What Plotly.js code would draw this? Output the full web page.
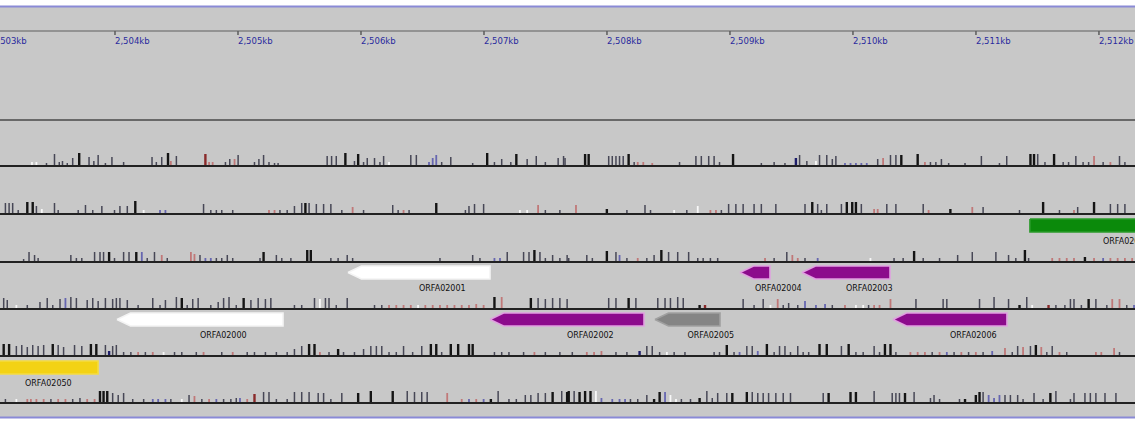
<!DOCTYPE html>
<html><head><meta charset="utf-8">
<script src="https://cdn.plot.ly/plotly-3.0.1.min.js"></script>
<style>html,body{margin:0;padding:0;background:#fff}#chart{width:1135px;height:421px}</style>
</head><body><div id="chart"></div>
<script>
// ---------- DATA ----------
const viewStartKb = 2503.065, viewEndKb = 2512.293;
const rulerTicksKb = [2503,2504,2505,2506,2507,2508,2509,2510,2511,2512];
const rulerLabels = ["2,503kb","2,504kb","2,505kb","2,506kb","2,507kb","2,508kb","2,509kb","2,510kb","2,511kb","2,512kb"];

// frame tracks: marker positions (kb), heights, class codes
const t1Pos = [2503.325,2503.361,2503.443,2503.508,2503.547,2503.573,2503.612,2503.656,2503.709,2503.789,2503.828,2503.863,2503.922,2503.975,2504.070,2504.301,2504.336,2504.380,2504.431,2504.454,2504.499,2504.735,2504.765,2504.794,2504.898,2504.933,2504.972,2505.001,2505.134,2505.170,2505.208,2505.252,2505.297,2505.326,2505.725,2505.761,2505.799,2505.873,2505.947,2505.977,2506.021,2506.051,2506.110,2506.154,2506.184,2506.228,2506.405,2506.450,2506.553,2506.583,2506.612,2506.656,2506.730,2506.908,2507.026,2507.085,2507.144,2507.218,2507.263,2507.351,2507.425,2507.499,2507.603,2507.647,
2507.659,2507.822,2507.851,2508.014,2508.043,2508.073,2508.102,2508.132,2508.176,2508.221,2508.250,2508.295,2508.368,2508.590,2508.723,2508.767,2508.827,2508.871,2508.915,2509.025,2509.255,2509.359,2509.447,2509.536,2509.566,2509.625,2509.699,2509.728,2509.787,2509.832,2509.861,2509.935,2509.980,2510.024,2510.068,2510.112,2510.201,2510.245,2510.305,2510.349,2510.393,2510.526,2510.585,2510.630,2510.674,2510.719,2510.778,2510.911,2511.044,2511.191,2511.250,2511.443,2511.472,2511.502,2511.561,2511.635,2511.709,2511.753,2511.812,2511.871,2511.916,2511.960,2512.034,2512.093,2512.167,2512.211];
const t1H = [4,4,3,12,4,5,3,8,13,9,5,11,3,9,4,9,4,9,13,5,10,12,4,4,4,7,7,11,4,7,11,4,3,3,10,10,10,13,5,12,4,8,8,4,10,4,11,11,4,8,11,4,9,3,13,4,7,4,12,7,10,4,8,10,
8,12,12,10,10,10,10,10,12,4,4,4,3,4,10,10,10,10,4,12,3,4,3,8,11,5,5,11,11,7,10,3,3,3,3,3,7,8,11,11,11,12,4,4,4,7,3,3,10,3,10,12,12,12,4,12,4,4,10,4,4,10,4,4,10,4];
const t1Cls = ("wwggggggKgggggggggKrgRrrggrggggggggggKgKgggggwggbbbgggKgggKggggg" +
               "gKKgggggKgrrrggggggKgggNggwggggbbbbbgrggKKrggggggggKKggKgggggrgrgg").split("");

const t2Pos = [2503.109,2503.139,2503.168,2503.213,2503.287,2503.331,2503.361,2503.405,2503.508,2503.538,2503.701,2503.760,2503.819,2503.893,2503.996,2504.040,2504.100,2504.165,2504.233,2504.366,2504.410,2504.720,2504.779,2504.824,2504.868,2504.957,2505.252,2505.297,2505.341,2505.400,2505.459,2505.518,2505.548,2505.578,2505.637,2505.696,2505.755,2505.844,2505.932,2506.021,2506.258,2506.302,2506.346,2506.391,2506.612,2506.849,2506.878,2506.923,2506.997,2507.292,2507.351,2507.440,2507.499,2507.617,
2507.748,2507.999,2508.162,2508.309,2508.354,2508.546,2508.649,2508.738,2508.841,2508.886,2508.930,2508.989,2509.048,2509.107,2509.196,2509.255,2509.373,2509.610,2509.669,2509.713,2509.743,2509.787,2509.906,2509.950,2509.994,2510.024,2510.068,2510.172,2510.201,2510.275,2510.349,2510.571,2510.615,2510.792,2510.970,2511.058,2511.354,2511.546,2511.679,2511.797,2511.827,2511.960,2512.093,2512.152,2512.211];
const t2H = [11,11,11,4,12,12,8,5,11,4,4,9,4,8,4,8,8,13,4,4,4,10,4,4,4,4,4,4,4,4,8,11,11,11,10,10,10,4,7,4,9,4,4,4,11,4,8,10,10,4,4,9,4,4,
9,5,4,9,4,4,4,8,4,4,4,10,10,10,10,10,10,10,12,10,4,10,10,12,12,12,10,5,5,10,10,10,4,5,7,7,4,12,4,4,7,12,10,10,10];
const t2Cls = ("ggggKKgwgggggggggKwbbgggggrrggggKgggggrgggrgKggggwwrgg" +
               "rKgggwgwrrggggggggKggggKKKgrrgggrKrggKgrgKggg").split("");

const t3Pos = [2503.257,2503.301,2503.346,2503.375,2503.641,2503.686,2503.730,2503.834,2503.878,2503.907,2503.952,2503.996,2504.070,2504.114,2504.173,2504.218,2504.262,2504.321,2504.380,2504.425,2504.617,2504.646,2504.691,2504.735,2504.779,2504.824,2504.868,2504.913,2504.957,2505.179,2505.208,2505.312,2505.356,2505.430,2505.563,2505.592,2505.755,2505.814,2505.888,2505.932,2506.642,2506.908,2506.967,2507.085,2507.130,2507.189,2507.322,2507.366,2507.410,2507.455,2507.499,2507.558,2507.617,2507.676,
2507.689,2507.836,2507.881,2507.999,2508.073,2508.102,2508.162,2508.250,2508.324,2508.383,2508.442,2508.501,2508.575,2508.664,2508.738,2508.782,2508.841,2508.900,2509.285,2509.359,2509.462,2509.507,2509.551,2509.610,2509.713,2510.142,2510.334,2510.408,2510.497,2510.571,2510.704,2510.851,2510.970,2511.162,2511.265,2511.324,2511.398,2511.428,2511.620,2511.679,2511.738,2511.797,2511.886,2511.960,2512.034,2512.093,2512.152,2512.211,2512.270];
const t3H = [3,10,7,4,7,4,4,10,10,10,10,4,10,10,10,10,4,10,7,4,10,8,7,4,4,4,4,7,4,4,10,7,4,4,12,12,4,4,7,4,4,7,4,4,4,10,10,10,12,10,4,7,4,7,
4,7,4,11,10,7,4,4,4,7,12,10,10,10,4,4,4,4,4,4,10,7,4,4,4,4,4,4,11,4,4,7,10,10,7,4,12,4,4,4,4,4,5,4,4,4,4,4,4];
const t3Cls = ("ggggggggggKgggKbggrgrrgbbgggggKgggKKgggggggbbgggKggggg" +
               "gggKgbgrggKgggggggrggrrgbwggKgggggggKgrrrrKrbrrrr").split("");

const t4Pos = [2503.095,2503.124,2503.198,2503.287,2503.390,2503.449,2503.494,2503.553,2503.597,2503.641,2503.686,2503.774,2503.819,2503.863,2503.922,2503.981,2504.011,2504.040,2504.100,2504.188,2504.307,2504.366,2504.410,2504.499,2504.543,2504.587,2504.632,2504.676,2504.779,2504.839,2504.883,2504.927,2504.986,2505.046,2505.105,2505.164,2505.223,2505.267,2505.459,2505.518,2505.622,2505.666,2505.711,2505.740,2505.799,2505.888,2506.110,2506.169,2506.228,2506.287,2506.346,2506.405,2506.464,2506.523,2506.583,2506.642,2506.701,2506.760,2506.819,2506.878,2506.937,2506.997,2507.085,2507.144,2507.381,2507.440,2507.499,2507.558,2507.617,2507.676,
2508.014,2508.073,2508.176,2508.235,2508.413,2508.472,2508.516,2508.575,2508.620,2508.753,2508.797,2509.107,2509.196,2509.270,2509.329,2509.388,2509.433,2509.477,2509.551,2509.610,2509.699,2509.773,2509.832,2509.935,2510.024,2510.083,2510.127,2510.172,2510.216,2510.305,2510.512,2510.733,2510.763,2511.029,2511.147,2511.265,2511.354,2511.413,2511.457,2511.590,2511.650,2511.723,2511.768,2511.797,2511.857,2511.916,2511.975,2512.064,2512.108,2512.167,2512.226,2512.285];
const t4H = [11,9,4,4,7,11,4,10,11,12,11,9,11,8,11,10,11,11,9,4,11,4,9,12,11,4,10,11,4,7,11,12,4,11,9,11,10,11,4,4,11,10,11,11,4,11,4,4,4,4,4,4,4,4,4,4,4,4,4,4,5,4,12,12,11,11,10,11,11,10,
11,11,11,11,11,11,11,12,11,4,4,10,4,10,4,10,4,6,4,8,4,5,4,4,4,4,4,4,4,10,10,10,10,10,12,10,4,12,4,4,4,4,10,10,4,10,10,4,10,10,4,4];
const t4Cls = ("ggwgggggbgggggggggggggggKggggggggKgggggggwggggggrrrrwrrrrrrrrrKrKggggggg" +
               "KggggggKRgggwrgggbbbgrwwgrrrggggggKgwRgggggKggrrgbgg").split("");

const t5Pos = [2503.095,2503.139,2503.198,2503.242,2503.287,2503.331,2503.375,2503.420,2503.494,2503.538,2503.582,2503.671,2503.730,2503.804,2503.848,2503.922,2503.952,2503.981,2504.011,2504.070,2504.129,2504.188,2504.247,2504.307,2504.395,2504.484,2504.543,2504.661,2504.720,2504.868,2504.957,2505.075,2505.134,2505.223,2505.312,2505.400,2505.459,2505.518,2505.578,2505.622,2505.666,2505.740,2505.814,2505.858,2505.947,2506.021,2506.080,2506.125,2506.169,2506.228,2506.287,2506.346,2506.420,2506.494,2506.568,2506.612,2506.656,2506.730,2506.790,2506.878,2506.908,2507.085,2507.144,2507.203,2507.322,2507.410,2507.499,2507.617,
2507.718,2507.836,2507.895,2507.955,2508.073,2508.162,2508.265,2508.324,2508.368,2508.428,2508.487,2508.546,2508.634,2508.871,2508.915,2508.974,2509.033,2509.078,2509.137,2509.181,2509.226,2509.300,2509.359,2509.403,2509.447,2509.492,2509.551,2509.595,2509.640,2509.728,2509.787,2509.906,2509.965,2510.024,2510.083,2510.172,2510.216,2510.260,2510.305,2510.349,2510.467,2510.526,2510.585,2510.644,2510.704,2510.763,2510.822,2510.881,2510.940,2510.999,2511.058,2511.132,2511.236,2511.295,2511.339,2511.383,2511.443,2511.487,2511.531,2511.576,2511.620,2511.679,2511.738,2511.975,2512.019,2512.123,2512.167];
const t5H = [12,12,10,11,9,11,10,11,12,11,9,11,10,12,12,11,5,10,11,4,4,4,4,4,4,4,4,4,4,4,4,4,4,4,4,4,7,10,12,12,4,4,7,4,4,7,10,10,10,4,4,10,4,10,12,12,4,12,12,12,12,4,4,4,4,4,4,4,
4,4,4,5,4,4,5,10,10,4,4,4,4,4,4,11,4,4,10,10,5,12,4,10,10,4,10,4,4,12,12,10,12,4,4,10,4,12,12,4,4,4,4,4,4,4,4,4,4,4,4,5,8,4,10,9,10,11,9,4,10,4,4,4,4,8,4];
const t5Cls = ("KKggggggKggggKKgNggggrgrwgggrgrgggggggKKrgKgggggggggggKKgKKKKggggrgg" +
               "grrrggNgggwggggKgbggbKgggggggKKgKggggKKgrrrgrbgrgrgbrggrgKrggrgrrrg").split("");

const t6Pos = [2503.109,2503.198,2503.287,2503.316,2503.361,2503.420,2503.479,2503.538,2503.597,2503.656,2503.715,2503.774,2503.834,2503.878,2503.907,2503.937,2503.981,2504.026,2504.070,2504.144,2504.233,2504.307,2504.351,2504.410,2504.454,2504.543,2504.602,2504.646,2504.706,2504.765,2504.824,2504.883,2504.942,2504.986,2505.016,2505.075,2505.134,2505.208,2505.252,2505.312,2505.400,2505.459,2505.518,2505.578,2505.652,2505.696,2505.755,2505.844,2505.977,2506.080,2506.258,2506.376,2506.435,2506.494,2506.538,2506.701,2506.819,2506.878,2506.937,2506.997,2507.056,2507.115,2507.203,2507.263,2507.336,2507.381,2507.440,2507.499,2507.558,2507.632,2507.676,
2507.689,2507.733,2507.777,2507.822,2507.866,2507.910,2507.955,2508.043,2508.102,2508.147,2508.191,2508.250,2508.324,2508.383,2508.428,2508.472,2508.516,2508.561,2508.605,2508.679,2508.753,2508.812,2508.856,2508.900,2508.974,2509.019,2509.137,2509.181,2509.226,2509.270,2509.314,2509.373,2509.433,2509.492,2509.758,2509.802,2509.980,2510.024,2510.172,2510.319,2510.349,2510.378,2510.423,2510.497,2510.630,2510.659,2510.704,2510.866,2510.911,2510.999,2511.029,2511.058,2511.103,2511.147,2511.191,2511.236,2511.280,2511.339,2511.383,2511.472,2511.546,2511.605,2511.650,2511.768,2511.797,2511.886,2511.930,2511.975,2512.049,2512.138,2512.182,2512.256];
const t6H = [4,4,4,4,4,4,4,4,4,4,5,4,4,12,12,12,10,8,10,4,4,4,4,4,4,4,8,7,4,4,4,4,4,5,5,4,9,11,11,4,4,11,11,11,10,10,4,10,10,12,12,12,11,11,11,10,4,4,4,4,4,12,4,4,8,8,10,10,11,12,11,
12,12,11,12,12,12,5,4,4,4,4,4,8,4,11,11,8,4,4,4,5,12,5,10,10,10,11,11,10,10,10,10,10,10,10,10,11,11,12,10,10,10,10,11,5,8,4,4,4,8,11,11,8,5,8,8,8,8,4,10,4,10,12,4,10,10,10,10,10,10,10,10];
const t6Cls = ("gwrrrrgrrggrrKKKgggggbbbgwgrgrbgggbrRgggggggggggKKKggggrrbrbKgggggggKg" +
               "KKgKKKwbbbbgggKKbwwggKggggKKggggggggKKKggggKgggggKKKgbbbggggggKgggggggg").split("");

// genes (ORFs)
const geneNames  = ["ORFA02050","ORFA02000","ORFA02001","ORFA02002","ORFA02005","ORFA02004","ORFA02003","ORFA02006","ORFA02007"];
const geneStart  = [2502.675,2504.016,2505.894,2507.049,2508.390,2509.081,2509.585,2510.325,2511.439];
const geneEnd    = [2503.862,2505.366,2507.049,2508.301,2508.919,2509.325,2510.301,2511.252,2512.626];
const geneStrand = [0,-1,-1,-1,-1,-1,-1,-1,0];
const geneLane   = [4,3,2,3,3,2,2,3,1];

// ---------- STYLE / LAYOUT ----------
const trackBase = [166,214,262,309,356,403];
const laneCentre = {1:225.5, 2:272.5, 3:319.5, 4:367.5};
const geneStyle = {
  ORFA02050:{fill:"#f3d214",line:"#f5dc40"},
  ORFA02000:{fill:"#ffffff",line:"#f4f4f4"},
  ORFA02001:{fill:"#ffffff",line:"#f4f4f4"},
  ORFA02002:{fill:"#8c0b8c",line:"#e0a0e0"},
  ORFA02005:{fill:"#858585",line:"#a0a0a0"},
  ORFA02004:{fill:"#8c0b8c",line:"#e0a0e0"},
  ORFA02003:{fill:"#8c0b8c",line:"#e0a0e0"},
  ORFA02006:{fill:"#8c0b8c",line:"#e0a0e0"},
  ORFA02007:{fill:"#0b8a0b",line:"#2a9a2a"}
};
const clsStyle = {
  K:{c:"#141414",w:2.4}, g:{c:"#474756",w:1.5}, r:{c:"#c07878",w:1.8},
  R:{c:"#8a2a2a",w:2.4}, b:{c:"#6666b0",w:1.8}, N:{c:"#1e1e6a",w:2.4}, w:{c:"#f8f8f8",w:1.8}
};

const traces = [];
const tracks = [[t1Pos,t1H,t1Cls],[t2Pos,t2H,t2Cls],[t3Pos,t3H,t3Cls],[t4Pos,t4H,t4Cls],[t5Pos,t5H,t5Cls],[t6Pos,t6H,t6Cls]];
tracks.forEach(([pos,h,cls],ti)=>{
  const base = trackBase[ti];
  const n = Math.min(pos.length,h.length,cls.length);
  const groups = {};
  for(let i=0;i<n;i++){
    const k = cls[i];
    if(!groups[k]) groups[k]={x:[],y:[]};
    groups[k].x.push(pos[i],pos[i],null);
    groups[k].y.push(base,base-h[i],null);
  }
  ["w","r","b","g","R","N","K"].forEach(k=>{
    if(!groups[k]) return;
    traces.push({type:"scatter",mode:"lines",x:groups[k].x,y:groups[k].y,
      line:{color:clsStyle[k].c,width:clsStyle[k].w},hoverinfo:"skip"});
  });
});

// genes
const head = 0.11, halfH = 6.5;
geneNames.forEach((nm,i)=>{
  const s=geneStart[i], e=geneEnd[i], c=laneCentre[geneLane[i]];
  const y0=c-halfH, y1=c+halfH;
  let xs, ys;
  if(geneStrand[i]===-1){ xs=[s,s+head,e,e,s+head,s]; ys=[c,y0,y0,y1,y1,c]; }
  else if(geneStrand[i]===1){ xs=[s,e-head,e,e-head,s,s]; ys=[y0,y0,c,y1,y1,y0]; }
  else { xs=[s,e,e,s,s]; ys=[y0,y0,y1,y1,y0]; }
  traces.push({type:"scatter",mode:"lines",x:xs,y:ys,fill:"toself",
    fillcolor:geneStyle[nm].fill,line:{color:geneStyle[nm].line,width:1.6},hoverinfo:"skip"});
});
traces.push({type:"scatter",mode:"text",
  x:geneNames.map((n,i)=>(geneStart[i]+geneEnd[i])/2),
  y:geneNames.map((n,i)=>laneCentre[geneLane[i]]+16.5),
  text:geneNames,textposition:"middle right",
  textfont:{family:"DejaVu Sans",size:8,color:"#101010"},hoverinfo:"skip"});

// ruler
const tickX=[], tickY=[];
rulerTicksKb.forEach(t=>{tickX.push(t,t,null); tickY.push(31,35,null);});
traces.push({type:"scatter",mode:"lines",x:tickX,y:tickY,line:{color:"#404040",width:1.2},hoverinfo:"skip"});
traces.push({type:"scatter",mode:"text",x:rulerTicksKb,y:rulerTicksKb.map(()=>42),
  text:rulerLabels,textposition:"middle right",
  textfont:{family:"DejaVu Sans",size:8.5,color:"#2a2a9e"},hoverinfo:"skip"});

const shapes = [
  {type:"rect",xref:"paper",yref:"y",x0:0,x1:1,y0:7,y1:417,fillcolor:"#c8c8c8",line:{width:0},layer:"below"},
  {type:"line",xref:"paper",yref:"y",x0:0,x1:1,y0:6.5,y1:6.5,line:{color:"#8a8ad6",width:2}},
  {type:"line",xref:"paper",yref:"y",x0:0,x1:1,y0:31,y1:31,line:{color:"#5e5e5e",width:1.2}},
  {type:"line",xref:"paper",yref:"y",x0:0,x1:1,y0:120,y1:120,line:{color:"#4a4a4a",width:1.6}},
  {type:"line",xref:"paper",yref:"y",x0:0,x1:1,y0:417.5,y1:417.5,line:{color:"#8a8ad6",width:2}}
];
trackBase.forEach(b=>shapes.push({type:"line",xref:"paper",yref:"y",x0:0,x1:1,y0:b,y1:b,line:{color:"#222222",width:1.9},layer:"above"}));

const layout = {
  width:1135,height:421,margin:{l:0,r:0,t:0,b:0,pad:0},
  paper_bgcolor:"#ffffff",plot_bgcolor:"#ffffff",showlegend:false,
  xaxis:{range:[viewStartKb,viewEndKb],visible:false,fixedrange:true},
  yaxis:{range:[421,0],visible:false,fixedrange:true},
  shapes:shapes
};
Plotly.newPlot("chart",traces,layout,{staticPlot:true,displayModeBar:false});
</script>
</body></html>
